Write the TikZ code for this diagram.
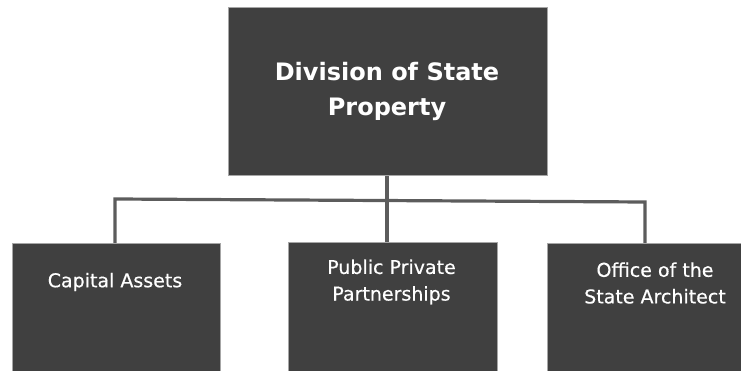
\documentclass[tikz,border=0pt]{standalone}
\usepackage{fontspec}
\setmainfont{DejaVu Sans}
\newfontfamily\unitfont{DejaVu Sans}[FakeBold=0.5]
\begin{document}
\begin{tikzpicture}[x=1pt,y=-1pt,
  unitbox/.style={draw=black!35,line width=0.8pt,fill=black!75,inner sep=0pt,anchor=north west},
  headtext/.style={text=white,align=center,font=\bfseries\fontsize{24}{35}\selectfont},
  unittext/.style={text=white,align=center,font=\unitfont\fontsize{19}{26.6}\selectfont},
  link/.style={draw=black!64,line width=3.2pt}]
\useasboundingbox (0,0) rectangle (741,371);
\clip (0,0) rectangle (741,371);

% head office
\node[unitbox,minimum width=319pt,minimum height=168pt] (dsp) at (228,7.5) {};
\node[headtext] (dsptext) at (387,91) {Division of State\\Property};

% branches (boxes run past the lower edge)
\node[unitbox,minimum width=208pt,minimum height=160pt] (cap) at (11.5,243) {};
\node[unitbox,minimum width=209pt,minimum height=160pt] (ppp) at (287.5,242) {};
\node[unitbox,minimum width=218pt,minimum height=160pt] (osa) at (546.5,243) {};

\node[unittext] (captext) at (115,282) {Capital Assets};
\node[unittext] (ppptext) at (391.5,282) {Public Private\\Partnerships};
\node[unittext] (osatext) at (655,283) {Office of the\\State Architect};

% connectors
\coordinate (capup) at (115,243);
\coordinate (pppup) at (387,242);
\coordinate (osaup) at (645,243);
\coordinate (busl) at (115,199);
\coordinate (busr) at (645,202);
\draw[link] (capup) -- (busl) -- (busr) -- (osaup);
\draw[link] (dsp.south -| pppup) -- (pppup);
\end{tikzpicture}
\end{document}
